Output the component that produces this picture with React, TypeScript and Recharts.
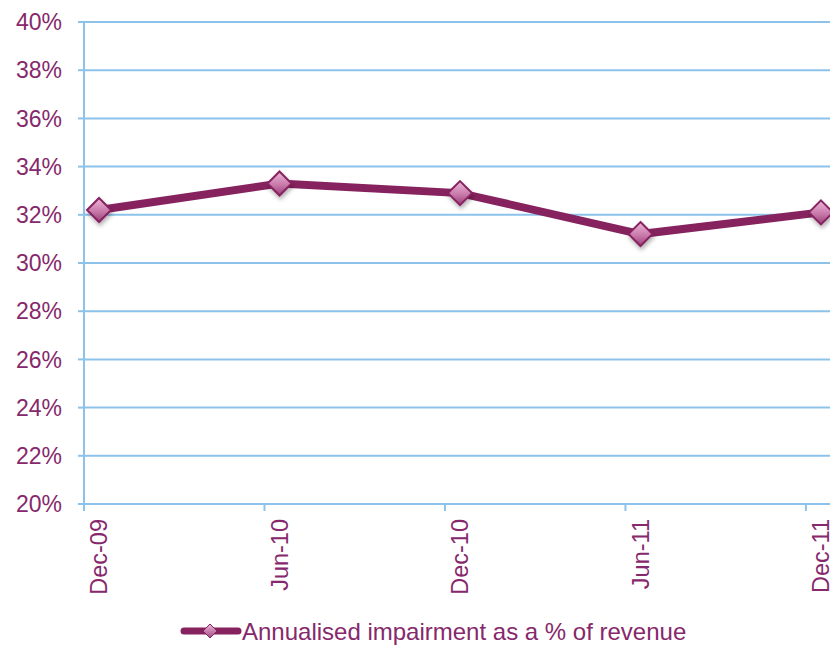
import React from 'react';
import { LineChart, Line, XAxis, YAxis, CartesianGrid, Legend } from 'recharts';

// period labels and their month offset from Dec-09
const periods = ['Dec-09', 'Jun-10', 'Dec-10', 'Jun-11', 'Dec-11'];
const monthIndex = [0, 6, 12, 18, 24];
const impairmentPct = [32.2, 33.3, 32.9, 31.2, 32.1];
const yTicks = [20, 22, 24, 26, 28, 30, 32, 34, 36, 38, 40];

const SERIES_NAME = 'Annualised impairment as a % of revenue';
const TEXT = '#86286B';
const LINE = '#86235F';
const GRID = '#8DC3EB';
const FONT = 'Arial, "Liberation Sans", sans-serif';

const CHART_W = 836;
const CHART_H = 645;
const Y_AXIS_W = 84;
const MONTHS = 25;
const monthPx = (CHART_W - Y_AXIS_W) / MONTHS;
const MARKER = 12;

const data = periods.map((p, i) => ({
  period: p,
  m: monthIndex[i] + 0.5,
  value: impairmentPct[i],
}));

const Diamond = (props: any) => {
  const { cx, cy } = props;
  if (cx == null || cy == null) return null;
  const s = MARKER;
  const d = `M${cx},${cy - s} L${cx + s},${cy} L${cx},${cy + s} L${cx - s},${cy} Z`;
  return (
    <path d={d} fill="url(#dg)" stroke={LINE} strokeWidth={2} filter="url(#shadow)" />
  );
};

const XTick = ({ x, y, payload }: any) => {
  const idx = monthIndex.indexOf(payload.value);
  const label = idx >= 0 ? periods[idx] : '';
  const tx = x + monthPx / 2;
  const ty = y + 8;
  return (
    <text
      x={tx}
      y={ty}
      transform={`rotate(-90, ${tx}, ${ty})`}
      textAnchor="end"
      dy="0.36em"
      fill={TEXT}
      fontSize={23.5}
      fontFamily={FONT}
    >
      {label}
    </text>
  );
};

const LegendContent = () => (
  <svg width={560} height={30} style={{ overflow: 'visible' }}>
    <defs>
      <linearGradient id="dgl" x1="0" y1="0" x2="0" y2="1">
        <stop offset="0%" stopColor="#EDB8DA" />
        <stop offset="100%" stopColor="#A24A82" />
      </linearGradient>
    </defs>
    <line x1={8} y1={17} x2={62} y2={17} stroke={LINE} strokeWidth={7} strokeLinecap="round" />
    <path d="M34,10 L41,17 L34,24 L27,17 Z" fill="url(#dgl)" stroke={LINE} strokeWidth={1} />
    <text x={66} y={17} dy="0.36em" fill={TEXT} fontSize={24} fontFamily={FONT}>
      {SERIES_NAME}
    </text>
  </svg>
);

export default function App() {
  return (
    <div style={{ position: 'absolute', left: 0, top: 0, width: 830, height: 645, overflow: 'hidden', background: '#fff' }}>
      <LineChart
        width={CHART_W}
        height={CHART_H}
        data={data}
        margin={{ top: 22, right: 0, bottom: 0, left: 0 }}
      >
        <defs>
          <linearGradient id="dg" x1="0" y1="0" x2="0" y2="1">
            <stop offset="0%" stopColor="#EDB8DA" />
            <stop offset="55%" stopColor="#C97AAB" />
            <stop offset="100%" stopColor="#9A3F78" />
          </linearGradient>
          <filter id="shadow" x="-50%" y="-50%" width="200%" height="200%">
            <feDropShadow dx="1" dy="3" stdDeviation="2" floodColor="#000" floodOpacity="0.3" />
          </filter>
        </defs>
        <CartesianGrid vertical={false} stroke={GRID} strokeWidth={2} />
        <XAxis
          dataKey="m"
          type="number"
          domain={[0, MONTHS]}
          ticks={monthIndex}
          interval={0}
          height={111}
          axisLine={{ stroke: GRID, strokeWidth: 2 }}
          tickLine={{ stroke: GRID, strokeWidth: 2 }}
          tickSize={7}
          tickMargin={0}
          tick={<XTick />}
        />
        <YAxis
          domain={[20, 40]}
          ticks={yTicks}
          interval={0}
          width={Y_AXIS_W}
          tickFormatter={(v: number) => `${v}%`}
          axisLine={{ stroke: GRID, strokeWidth: 2 }}
          tickLine={{ stroke: GRID, strokeWidth: 2 }}
          tickSize={6}
          tickMargin={16}
          tick={{ fill: TEXT, fontSize: 23, fontFamily: FONT }}
        />
        <Legend
          verticalAlign="bottom"
          height={30}
          content={<LegendContent />}
          wrapperStyle={{ left: 176, top: 614, width: 560, height: 30 }}
        />
        <Line
          dataKey="value"
          name={SERIES_NAME}
          stroke={LINE}
          strokeWidth={8}
          dot={<Diamond />}
          activeDot={false}
          isAnimationActive={false}
        />
      </LineChart>
    </div>
  );
}
